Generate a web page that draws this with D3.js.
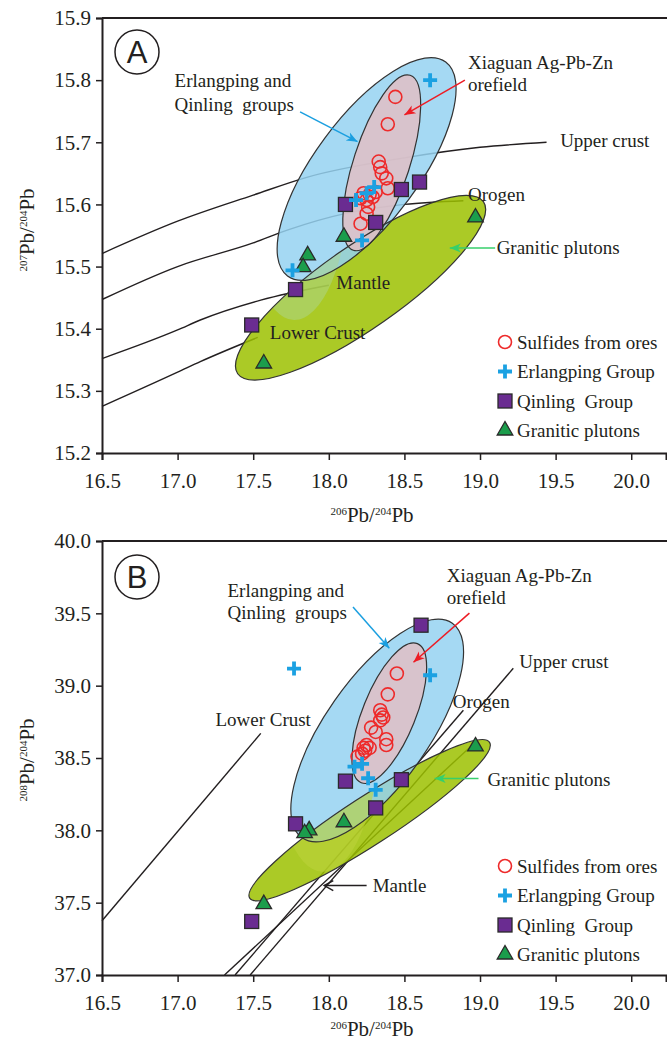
<!DOCTYPE html>
<html>
<head>
<meta charset="utf-8">
<script src="https://cdn.jsdelivr.net/npm/d3@7"></script>
<style>
  body { margin: 0; background: #fff; }
  text { font-family: "Liberation Serif", "Times New Roman", serif; fill: #231f20; }
</style>
</head>
<body>
<svg id="chart" width="667" height="1046"></svg>
<script>

// ---- data ----
// x ticks shared by both panels (206Pb/204Pb)
const pb206Ticks = [16.5, 17.0, 17.5, 18.0, 18.5, 19.0, 19.5, 20.0];
const pb207Ticks = [15.2, 15.3, 15.4, 15.5, 15.6, 15.7, 15.8, 15.9];
const pb208Ticks = [37.0, 37.5, 38.0, 38.5, 39.0, 39.5, 40.0];

// panel A : [206Pb/204Pb, 207Pb/204Pb]
const sulfidesA = [[18.44, 15.773], [18.39, 15.729], [18.33, 15.669], [18.34, 15.660], [18.35, 15.650],
  [18.38, 15.642], [18.39, 15.626], [18.31, 15.620], [18.27, 15.616], [18.23, 15.618], [18.21, 15.610],
  [18.25, 15.607], [18.26, 15.596], [18.25, 15.585], [18.21, 15.569], [18.29, 15.612]];
const erlangpingA = [[18.67, 15.800], [18.18, 15.607], [18.25, 15.618], [18.30, 15.628], [18.22, 15.542], [17.76, 15.494]];
const qinlingA = [[18.11, 15.600], [18.31, 15.571], [18.48, 15.624], [18.60, 15.636], [17.78, 15.463], [17.49, 15.406]];
const granitesA = [[18.10, 15.548], [17.86, 15.518], [17.83, 15.499], [18.97, 15.579], [17.57, 15.344]];

// growth curves, panel A
const upperCrustA = [[16.5, 15.521], [17.0, 15.573], [17.5, 15.615], [17.86, 15.644], [18.5, 15.675], [19.0, 15.692], [19.44, 15.700]];
const orogenA = [[16.5, 15.447], [17.0, 15.500], [17.5, 15.538], [17.73, 15.559], [18.12, 15.586], [18.5, 15.600], [18.89, 15.606]];
const mantleA = [[16.5, 15.352], [17.0, 15.398], [17.15, 15.414], [17.55, 15.446], [18.0, 15.470]];
const lowerCrustA = [[16.5, 15.275], [17.0, 15.330], [17.15, 15.347], [17.53, 15.386]];

// panel B : [206Pb/204Pb, 208Pb/204Pb]
const sulfidesB = [[18.45, 39.084], [18.39, 38.94], [18.34, 38.83], [18.35, 38.80], [18.34, 38.76],
  [18.31, 38.68], [18.38, 38.63], [18.38, 38.59], [18.25, 38.59], [18.24, 38.55], [18.22, 38.53],
  [18.19, 38.51], [18.27, 38.57], [18.28, 38.71], [18.36, 38.78], [18.23, 38.57]];
const erlangpingB = [[17.77, 39.118], [18.67, 39.072], [18.17, 38.44], [18.22, 38.46], [18.26, 38.36], [18.31, 38.28]];
const qinlingB = [[18.61, 39.418], [18.11, 38.34], [18.48, 38.35], [18.31, 38.155], [17.78, 38.045], [17.49, 37.37]];
const granitesB = [[18.97, 38.58], [18.10, 38.056], [17.87, 38.00], [17.84, 37.98], [17.57, 37.49]];

// growth curves, panel B
const lowerCrustB = [[16.5, 37.375], [17.55, 38.67]];
const mantleB = [[17.31, 37.0], [18.98, 38.62]];
const orogenB = [[17.38, 37.0], [18.89, 38.83]];
const upperCrustB = [[17.48, 37.0], [19.22, 39.12]];

const legendNames = ["Sulfides from ores", "Erlangping Group", "Qinling  Group", "Granitic plutons"];

// ---- drawing ----
const svg = d3.select("#chart");
const defs = svg.append("defs");
const ink = "#231f20";

const x = d3.scaleLinear().domain([16.5, 20.23]).range([102, 666]);

function arrowMarker(id, colour, open) {
  const m = defs.append("marker").attr("id", id)
    .attr("viewBox", "-11 -6 13 12").attr("refX", 0).attr("refY", 0)
    .attr("markerUnits", "userSpaceOnUse").attr("markerWidth", 13).attr("markerHeight", 12)
    .attr("orient", "auto");
  if (open) {
    m.append("path").attr("d", "M-9,-5L0,0L-9,5").attr("fill", "none")
      .attr("stroke", colour).attr("stroke-width", 1.5);
  } else {
    m.append("path").attr("d", "M-11,-4.5L0,0L-11,4.5L-8,0Z").attr("fill", colour);
  }
}
arrowMarker("arBlue", "#1b9fe0");
arrowMarker("arRed", "#ed1c24");
arrowMarker("arGreen", "#37cf6b");
arrowMarker("arBlack", ink, true);

const symbols = {
  circle: g => g.append("circle").attr("r", 6.5).attr("fill", "none").attr("stroke", "#ee2a2a").attr("stroke-width", 1.6),
  cross: g => g.append("path").attr("d", "M-7,0H7M0,-7V7").attr("stroke", "#1ba1e2").attr("stroke-width", 3.8),
  square: g => g.append("rect").attr("x", -7).attr("y", -7).attr("width", 14).attr("height", 14)
    .attr("fill", "#6a2c91").attr("stroke", "#2a2a2a").attr("stroke-width", 1.3),
  triangle: g => g.append("path").attr("d", d3.symbol(d3.symbolTriangle, 105)())
    .attr("fill", "#1b9d4c").attr("stroke", "#2a2a2a").attr("stroke-width", 1.3)
};

function drawPanel(p) {
  const y = p.y;
  const g = svg.append("g");
  const line = d3.line().x(d => x(d[0])).y(d => y(d[1])).curve(d3.curveMonotoneX);

  // reference growth curves
  g.append("g").selectAll("path").data(p.curves).join("path")
    .attr("d", line).attr("fill", "none").attr("stroke", ink).attr("stroke-width", 1.4);

  const ell = (sel, f) => sel
    .attr("cx", x(f.c[0])).attr("cy", y(f.c[1])).attr("rx", f.a).attr("ry", f.b)
    .attr("transform", `rotate(${f.angle} ${x(f.c[0])} ${y(f.c[1])})`);

  defs.append("clipPath").attr("id", p.id + "clip").append("ellipse").call(ell, p.fields.blue);

  g.append("ellipse").call(ell, p.fields.green).attr("fill", "#9cc100").attr("fill-opacity", 0.85);
  g.append("ellipse").call(ell, p.fields.blue).attr("fill", "#95d2f1").attr("fill-opacity", 0.85);
  g.append("ellipse").call(ell, p.fields.pink).attr("fill", "#e0bec4").attr("fill-opacity", 0.85);
  g.append("ellipse").call(ell, p.fields.green).attr("fill", p.overlap[0]).attr("fill-opacity", p.overlap[1])
    .attr("clip-path", `url(#${p.id}clip)`);
  ["green", "blue", "pink"].forEach(k => {
    g.append("ellipse").call(ell, p.fields[k]).attr("fill", "none").attr("stroke", "#333").attr("stroke-width", 1.2);
  });

  // axes
  const yAxis = g.append("g").attr("transform", `translate(${x(16.5)},0)`)
    .call(d3.axisLeft(y).tickValues(p.yTicks).tickFormat(d3.format(".1f")).tickSizeOuter(0).tickSize(6).tickPadding(5));
  const xAxis = g.append("g").attr("transform", `translate(0,${y(p.yTicks[0])})`)
    .call(d3.axisBottom(x).tickValues(pb206Ticks).tickFormat(d3.format(".1f")).tickSizeOuter(0).tickSize(7).tickPadding(13));
  [yAxis, xAxis].forEach(a => {
    a.select(".domain").attr("stroke", ink).attr("stroke-width", 2);
    a.selectAll(".tick line").attr("stroke", ink).attr("stroke-width", 1.5);
    a.selectAll("text").style("font-size", "21px").attr("fill", ink);
  });
  g.append("line").attr("x1", x(16.5)).attr("x2", 667)
    .attr("y1", y(p.yTicks[p.yTicks.length - 1])).attr("y2", y(p.yTicks[p.yTicks.length - 1]))
    .attr("stroke", ink).attr("stroke-width", 2);

  // axis titles
  const yt = g.append("text").attr("transform", `translate(34,${p.yTitleY}) rotate(-90)`).attr("text-anchor", "middle");
  yt.append("tspan").attr("font-size", 11).attr("dy", -7).text(p.yIso);
  yt.append("tspan").attr("font-size", 21).attr("dy", 7).text("Pb/");
  yt.append("tspan").attr("font-size", 11).attr("dy", -7).text("204");
  yt.append("tspan").attr("font-size", 21).attr("dy", 7).text("Pb");
  const xt = g.append("text").attr("x", 372).attr("y", p.xTitleY).attr("text-anchor", "middle");
  xt.append("tspan").attr("font-size", 11).attr("dy", -7).text("206");
  xt.append("tspan").attr("font-size", 21).attr("dy", 7).text("Pb/");
  xt.append("tspan").attr("font-size", 11).attr("dy", -7).text("204");
  xt.append("tspan").attr("font-size", 21).attr("dy", 7).text("Pb");

  // samples
  p.series.forEach(s => {
    g.append("g").selectAll("g").data(s.data).join("g")
      .attr("transform", d => `translate(${x(d[0])},${y(d[1])})`)
      .each(function () { symbols[s.shape](d3.select(this)); });
  });

  // annotations
  p.labels.forEach(l => {
    g.append("text").attr("x", x(l.at[0])).attr("y", y(l.at[1]))
      .attr("font-size", 19).style("white-space", "pre").text(l.text);
  });
  p.arrows.forEach(a => {
    g.append("line").attr("x1", x(a.from[0])).attr("y1", y(a.from[1]))
      .attr("x2", x(a.to[0])).attr("y2", y(a.to[1]))
      .attr("stroke", a.colour).attr("stroke-width", 1.5).attr("marker-end", `url(#${a.marker})`);
  });

  // panel letter
  g.append("circle").attr("cx", 137).attr("cy", p.letterY).attr("r", 22)
    .attr("fill", "none").attr("stroke", ink).attr("stroke-width", 1.5);
  g.append("text").attr("x", 137).attr("y", p.letterY + 11).attr("text-anchor", "middle")
    .style("font-family", "'Liberation Sans', Arial, sans-serif").attr("font-size", 31).text(p.letter);

  // legend
  const shapes = ["circle", "cross", "square", "triangle"];
  const lg = g.append("g").selectAll("g").data(legendNames).join("g")
    .attr("transform", (d, i) => `translate(505,${p.legendY + i * 29.5})`);
  lg.each(function (d, i) { symbols[shapes[i]](d3.select(this)); });
  lg.append("text").attr("x", 12).attr("y", 6.5).attr("font-size", 19).style("white-space", "pre").text(d => d);
}

drawPanel({
  id: "A", letter: "A", letterY: 52,
  y: d3.scaleLinear().domain([15.2, 15.9]).range([453, 18]),
  yTicks: pb207Ticks, yIso: "207", yTitleY: 230, xTitleY: 522, legendY: 342,
  curves: [upperCrustA, orogenA, mantleA, lowerCrustA],
  fields: {
    blue: { c: [18.25, 15.657], a: 133, b: 52, angle: -53.5 },
    pink: { c: [18.35, 15.667], a: 92, b: 28, angle: -72 },
    green: { c: [18.21, 15.466], a: 150, b: 41, angle: -35 }
  },
  overlap: ["#aed591", 0.5],
  series: [
    { data: sulfidesA, shape: "circle" },
    { data: qinlingA, shape: "square" },
    { data: granitesA, shape: "triangle" },
    { data: erlangpingA, shape: "cross" }
  ],
  labels: [
    { text: "Erlangping and", at: [16.98, 15.789] },
    { text: "Qinling  groups", at: [16.98, 15.750] },
    { text: "Xiaguan Ag-Pb-Zn", at: [18.92, 15.818] },
    { text: "orefield", at: [18.92, 15.782] },
    { text: "Upper crust", at: [19.53, 15.692] },
    { text: "Orogen", at: [18.92, 15.605] },
    { text: "Granitic plutons", at: [19.11, 15.520] },
    { text: "Mantle", at: [18.05, 15.464] },
    { text: "Lower Crust", at: [17.61, 15.383] }
  ],
  arrows: [
    { from: [17.81, 15.749], to: [18.19, 15.701], colour: "#1b9fe0", marker: "arBlue" },
    { from: [18.90, 15.800], to: [18.50, 15.744], colour: "#ed1c24", marker: "arRed" },
    { from: [19.10, 15.530], to: [18.80, 15.530], colour: "#37cf6b", marker: "arGreen" }
  ]
});

drawPanel({
  id: "B", letter: "B", letterY: 577,
  y: d3.scaleLinear().domain([37.0, 40.0]).range([975, 541]),
  yTicks: pb208Ticks, yIso: "208", yTitleY: 760, xTitleY: 1036, legendY: 866,
  curves: [lowerCrustB, mantleB, orogenB, upperCrustB],
  fields: {
    blue: { c: [18.32, 38.69], a: 131, b: 52, angle: -55 },
    pink: { c: [18.40, 38.81], a: 75, b: 26.5, angle: -68 },
    green: { c: [18.27, 38.07], a: 143, b: 24, angle: -33 }
  },
  overlap: ["#bdd23a", 0.6],
  series: [
    { data: sulfidesB, shape: "circle" },
    { data: qinlingB, shape: "square" },
    { data: granitesB, shape: "triangle" },
    { data: erlangpingB, shape: "cross" }
  ],
  labels: [
    { text: "Erlangping and", at: [17.33, 39.612] },
    { text: "Qinling  groups", at: [17.33, 39.460] },
    { text: "Xiaguan Ag-Pb-Zn", at: [18.78, 39.716] },
    { text: "orefield", at: [18.78, 39.564] },
    { text: "Upper crust", at: [19.26, 39.120] },
    { text: "Orogen", at: [18.82, 38.843] },
    { text: "Granitic plutons", at: [19.05, 38.303] },
    { text: "Mantle", at: [18.29, 37.576] },
    { text: "Lower Crust", at: [17.25, 38.720] }
  ],
  arrows: [
    { from: [18.16, 39.543], to: [18.40, 39.259], colour: "#1b9fe0", marker: "arBlue" },
    { from: [18.93, 39.501], to: [18.56, 39.162], colour: "#ed1c24", marker: "arRed" },
    { from: [18.99, 38.359], to: [18.70, 38.359], colour: "#37cf6b", marker: "arGreen" },
    { from: [18.25, 37.618], to: [17.97, 37.618], colour: ink, marker: "arBlack" }
  ]
});
</script>
</body>
</html>
